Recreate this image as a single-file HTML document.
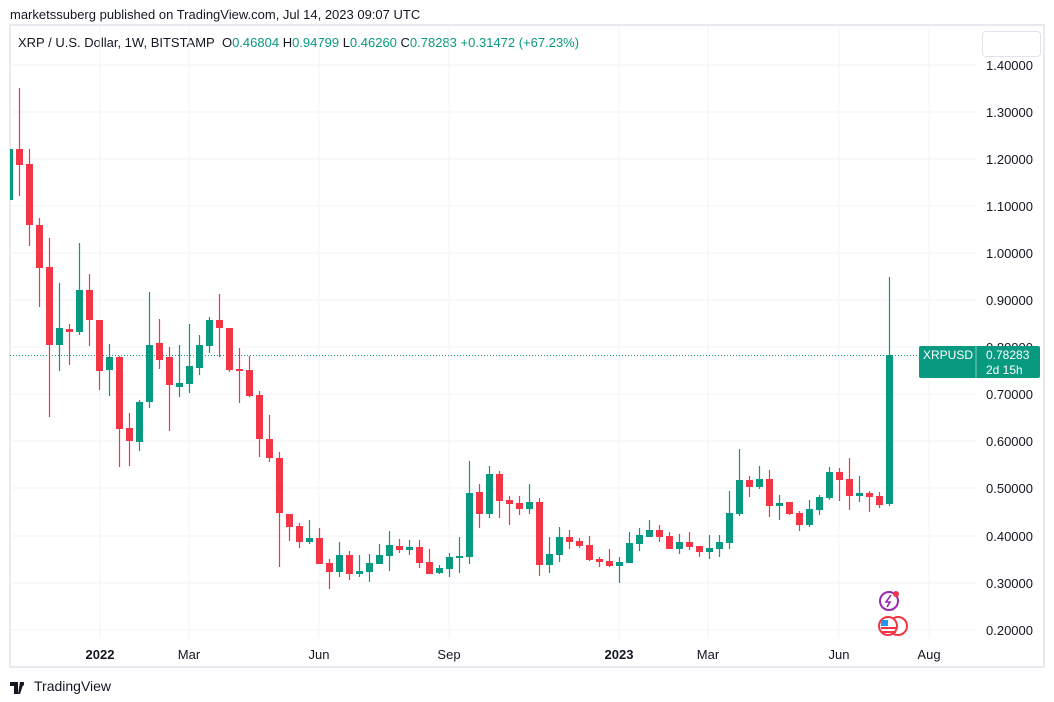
<!DOCTYPE html>
<html><head><meta charset="utf-8"><style>
body{margin:0;width:1054px;height:702px;background:#fff;font-family:"Liberation Sans",sans-serif;overflow:hidden;position:relative}
.t{position:absolute;white-space:nowrap;color:#131722}
</style></head><body>
<div class="t" style="left:10px;top:7px;font-size:13px">marketssuberg published on TradingView.com, Jul 14, 2023 09:07 UTC</div>
<div class="t" style="left:18px;top:35px;font-size:13px">XRP / U.S. Dollar, 1W, BITSTAMP&nbsp;&nbsp;O<span style="color:#089981">0.46804</span> H<span style="color:#089981">0.94799</span> L<span style="color:#089981">0.46260</span> C<span style="color:#089981">0.78283 +0.31472 (+67.23%)</span></div>
<div style="position:absolute;left:982px;top:31px;width:57px;height:24px;border:1px solid #e0e3eb;border-radius:4px"></div>
<svg width="1054" height="702" style="position:absolute;left:0;top:0" xmlns="http://www.w3.org/2000/svg">
<rect x="10" y="25" width="1034" height="642" fill="none" stroke="#e0e3eb" stroke-width="1.5"/>
<g stroke="#f0f3fa" stroke-width="1">
<line x1="10" x2="976" y1="65" y2="65"/><line x1="10" x2="976" y1="112" y2="112"/><line x1="10" x2="976" y1="159" y2="159"/><line x1="10" x2="976" y1="206" y2="206"/><line x1="10" x2="976" y1="253" y2="253"/><line x1="10" x2="976" y1="300" y2="300"/><line x1="10" x2="976" y1="347" y2="347"/><line x1="10" x2="976" y1="394" y2="394"/><line x1="10" x2="976" y1="441" y2="441"/><line x1="10" x2="976" y1="488" y2="488"/><line x1="10" x2="976" y1="536" y2="536"/><line x1="10" x2="976" y1="583" y2="583"/><line x1="10" x2="976" y1="630" y2="630"/>
<line x1="100" x2="100" y1="25" y2="638"/><line x1="189" x2="189" y1="25" y2="638"/><line x1="319" x2="319" y1="25" y2="638"/><line x1="449" x2="449" y1="25" y2="638"/><line x1="619" x2="619" y1="25" y2="638"/><line x1="708" x2="708" y1="25" y2="638"/><line x1="839" x2="839" y1="25" y2="638"/><line x1="929" x2="929" y1="25" y2="638"/>
</g>
<line x1="10" x2="918" y1="355.5" y2="355.5" stroke="#089981" stroke-dasharray="1,2"/>
<rect x="10" y="149" width="3" height="51" fill="#089981"/>
<g id="c"></g>
<g font-size="13" fill="#131722" font-family="Liberation Sans">
<text x="986" y="70">1.40000</text><text x="986" y="117">1.30000</text><text x="986" y="164">1.20000</text><text x="986" y="211">1.10000</text><text x="986" y="258">1.00000</text><text x="986" y="305">0.90000</text><text x="986" y="352">0.80000</text><text x="986" y="399">0.70000</text><text x="986" y="446">0.60000</text><text x="986" y="493">0.50000</text><text x="986" y="541">0.40000</text><text x="986" y="588">0.30000</text><text x="986" y="635">0.20000</text>
<text x="100" y="659" text-anchor="middle" font-weight="bold">2022</text><text x="189" y="659" text-anchor="middle">Mar</text><text x="319" y="659" text-anchor="middle">Jun</text><text x="449" y="659" text-anchor="middle">Sep</text><text x="619" y="659" text-anchor="middle" font-weight="bold">2023</text><text x="708" y="659" text-anchor="middle">Mar</text><text x="839" y="659" text-anchor="middle">Jun</text><text x="929" y="659" text-anchor="middle">Aug</text>
</g>
<rect x="919" y="346" width="121" height="32" rx="2" fill="#089981"/>
<line x1="976" x2="976" y1="346" y2="378" stroke="#fff" stroke-opacity=".5"/>
<text x="923" y="359" font-size="12" fill="#fff" font-family="Liberation Sans">XRPUSD</text>
<text x="986" y="359" font-size="12" fill="#fff" font-family="Liberation Sans">0.78283</text>
<text x="986" y="374" font-size="12" fill="#fff" font-family="Liberation Sans">2d 15h</text>
<circle cx="889" cy="601" r="9" fill="none" stroke="#9c27b0" stroke-width="2"/>
<path d="M891 595 L886 602 L890 602 L887 607" stroke="#9c27b0" stroke-width="1.6" fill="none"/>
<circle cx="896" cy="594" r="3" fill="#f23645"/>
<circle cx="898" cy="626" r="9" fill="#fff" stroke="#f23645" stroke-width="2"/>
<circle cx="888" cy="626" r="9" fill="#fff" stroke="#f23645" stroke-width="2"/>
<rect x="881" y="620" width="7" height="6" fill="#2196f3"/>
<rect x="881" y="627" width="15" height="2" fill="#f23645"/><rect x="881" y="631" width="15" height="2" fill="#f23645"/>
<path d="M10 682 h8 v12 h-4 v-8 h-4z M20 682 h4 l-4 12 h-2z" fill="#131722"/>
<circle cx="22" cy="684" r="2" fill="#131722"/>
<text x="34" y="691" font-size="14" fill="#131722" font-family="Liberation Sans">TradingView</text>
</svg>
<script>
var d=`r 88 196 149 165
r 149 246 164 225
r 218 307 225 268
r 238 417 267 345
g 283 371 328 345
r 324 365 329 332
g 243 335 290 332
r 274 346 290 320
r 320 390 320 371
g 344 396 357 370
r 356 467 357 429
r 413 466 428 441
g 400 451 402 442
g 292 408 345 402
r 319 369 343 360
r 347 431 357 385
g 345 397 383 387
g 324 393 366 384
g 335 375 345 368
g 317 353 320 346
r 294 357 320 328
r 328 372 328 370
r 348 403 369 371
r 356 397 370 396
r 391 457 395 439
r 415 462 439 458
r 452 567 458 513
r 514 541 514 527
r 523 548 526 542
g 520 544 538 542
r 528 564 538 564
r 559 589 563 572
g 542 577 555 572
r 551 580 555 574
g 555 577 571 574
g 554 582 563 572
g 544 564 555 564
g 531 571 545 556
r 539 553 546 550
g 540 555 547 550
r 540 568 547 563
r 549 574 562 574
g 565 574 568 573
g 553 577 557 569
g 537 573 556 558
g 461 564 493 557
r 484 528 492 514
g 466 518 474 514
r 471 518 474 501
r 496 525 500 504
r 496 515 503 509
g 484 514 502 509
r 498 576 502 565
g 537 573 554 565
g 527 562 537 555
r 530 549 537 542
r 538 548 541 546
r 536 561 545 560
r 557 567 559 562
r 549 567 561 566
g 557 583 562 566
g 532 563 543 563
g 528 551 535 544
g 520 537 530 537
r 525 542 530 537
r 532 549 536 549
g 534 554 542 549
r 532 550 542 547
r 546 557 546 552
g 535 559 548 552
g 535 557 542 549
g 491 549 513 543
g 449 516 480 514
r 476 497 480 487
g 466 489 479 487
r 470 517 479 506
g 495 520 503 506
r 502 515 502 514
r 511 531 513 525
g 500 527 509 525
g 495 515 497 510
g 467 500 472 498
r 468 501 472 480
r 458 510 479 496
g 476 502 493 496
r 491 512 493 497
r 492 508 496 505
g 277 506 355 504`.split('\n');
var s='';d.forEach(function(l,i){var p=l.split(' '),c=p[0]=='g'?'#089981':'#f23645',x=19.5+10*i,h=Math.max(2,p[4]-p[3]);
s+='<line x1="'+x+'" x2="'+x+'" y1="'+p[1]+'" y2="'+p[2]+'" stroke="'+c+'" stroke-width="1.2"/><rect x="'+(x-3.5)+'" y="'+p[3]+'" width="7" height="'+h+'" fill="'+c+'"/>';});
document.getElementById('c').innerHTML=s;
</script>
</body></html>
